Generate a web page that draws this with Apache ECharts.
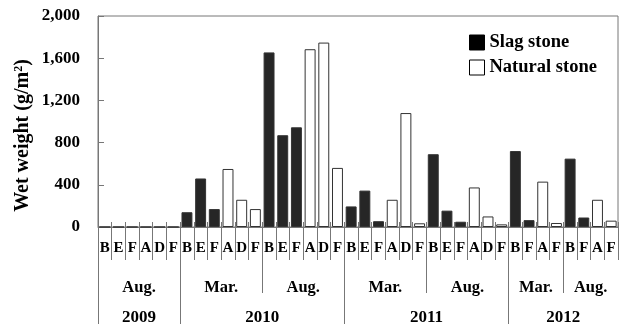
<!DOCTYPE html>
<html><head><meta charset="utf-8">
<script src="https://cdn.jsdelivr.net/npm/echarts@6/dist/echarts.min.js"></script>
<style>html,body{margin:0;padding:0;background:#fff}#c{width:619px;height:324px}</style>
</head><body><div id="c"></div>
<script>
const categories = ['B','E','F','A','D','F', 'B','E','F','A','D','F', 'B','E','F','A','D','F', 'B','E','F','A','D','F', 'B','E','F','A','D','F', 'B','F','A','F', 'B','F','A','F'];
const slagStone = [0,0,0,null,null,null, 140,460,170,null,null,null, 1655,870,945,null,null,null, 195,345,55,null,null,null, 690,155,50,null,null,null, 720,65,null,null, 648,90,null,null];
const naturalStone = [null,null,null,0,0,0, null,null,null,550,258,170, null,null,null,1685,1748,560, null,null,null,258,1080,35, null,null,null,375,100,25, null,null,430,38, null,null,258,60];
const monthLabels = ['Aug.','Mar.','Aug.','Mar.','Aug.','Mar.','Aug.'];
const monthSizes = [6,6,6,6,6,4,4];
const yearLabels = ['2009','2010','2011','2012'];
const yearSizes = [6,12,12,8];
const yTicks = [0,400,800,1200,1600,2000];

const FONT = "'Liberation Serif','Times New Roman',serif";
const GRAY = '#777';
const N = categories.length;

function groups(sizes, labels){
  let pos = 0; const bounds = [], centers = [], map = {};
  sizes.forEach((s,i)=>{ bounds.push(pos); const c = pos + s/2; centers.push(c); map[c] = labels[i]; pos += s; });
  return {bounds, centers, map};
}
const mg = groups(monthSizes, monthLabels);
const yg = groups(yearSizes, yearLabels);
const monthOnly = mg.bounds.filter(b => yg.bounds.indexOf(b) < 0);

const chart = echarts.init(document.getElementById('c'), null, {renderer:'canvas'});
chart.setOption({
  animation:false,
  backgroundColor:'#fff',
  grid:{left:98, right:1, top:16, bottom:97, show:true, borderColor:GRAY, borderWidth:1, backgroundColor:'transparent', outerBoundsMode:'none', containLabel:false},
  legend:{
    orient:'vertical', left:464, top:28, itemWidth:15, itemHeight:15, itemGap:6, icon:'rect',
    textStyle:{fontFamily:FONT, fontWeight:'bold', fontSize:18.5, color:'#000'},
    data:[{name:'Slag stone', itemStyle:{color:'#000', borderColor:'#000', borderWidth:1}},
          {name:'Natural stone', itemStyle:{color:'#fff', borderColor:'#000', borderWidth:1}}]
  },
  xAxis:[
    {type:'category', data:categories, position:'bottom',
     axisLine:{show:true, lineStyle:{color:GRAY}},
     axisTick:{show:true, length:33, lineStyle:{color:GRAY}},
     axisLabel:{interval:0, margin:14, fontFamily:FONT, fontWeight:'bold', fontSize:15, color:'#000'}},
    {type:'category', data:categories, position:'bottom',
     axisLine:{show:false}, axisTick:{show:true, inside:true, length:5, lineStyle:{color:GRAY}},
     axisLabel:{show:false}},
    {type:'value', min:0, max:N, position:'bottom', splitLine:{show:false}, axisLine:{show:false},
     axisTick:{show:true, customValues:monthOnly, length:66, lineStyle:{color:GRAY}},
     axisLabel:{customValues:mg.centers, margin:52, formatter:v=>mg.map[v]||'', fontFamily:FONT, fontWeight:'bold', fontSize:16.5, color:'#000'}},
    {type:'value', min:0, max:N, position:'bottom', splitLine:{show:false}, axisLine:{show:false},
     axisTick:{show:true, customValues:yg.bounds, length:100, lineStyle:{color:GRAY}},
     axisLabel:{customValues:yg.centers, margin:82, formatter:v=>yg.map[v]||'', fontFamily:FONT, fontWeight:'bold', fontSize:17, color:'#000'}}
  ],
  yAxis:{type:'value', min:0, max:2000, interval:400,
    name:'{a|Wet weight (g/m}{s|2}{a|)}', nameLocation:'middle', nameGap:65, nameRotate:90, nameMoveOverlap:false,
    nameTextStyle:{padding:[0,28,0,0], rich:{a:{fontFamily:FONT, fontWeight:'bold', fontSize:20, color:'#000'},
                         s:{fontFamily:FONT, fontWeight:'bold', fontSize:12, color:'#000', verticalAlign:'top', padding:[0,0,8,0]}}},
    axisLine:{show:true, lineStyle:{color:GRAY}},
    axisTick:{show:true, inside:true, length:6, lineStyle:{color:GRAY}},
    splitLine:{show:false},
    axisLabel:{margin:18, fontFamily:FONT, fontWeight:'bold', fontSize:17, color:'#000'}
  },
  series:[
    {name:'Slag stone', type:'bar', xAxisIndex:0, data:slagStone, barWidth:'80%', barGap:'-100%',
     itemStyle:{color:'#262626', borderColor:'#333', borderWidth:1}},
    {name:'Natural stone', type:'bar', xAxisIndex:0, data:naturalStone, barWidth:'80%', barGap:'-100%',
     itemStyle:{color:'#fff', borderColor:'#333', borderWidth:1}}
  ]
});
</script></body></html>
